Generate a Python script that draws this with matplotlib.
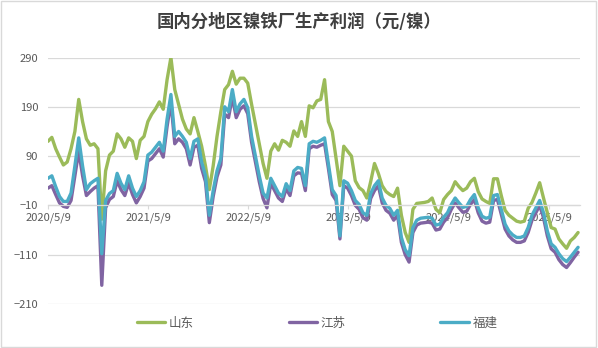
import matplotlib
matplotlib.use("Agg")
import matplotlib.pyplot as plt
import pandas as pd
from matplotlib.patches import Rectangle

plt.rcParams['font.family'] = ['Noto Sans CJK SC', 'DejaVu Sans']

# Fortnightly profit readings from 2020/5/9 (元/镍)
start_date = "2020-05-09"
shandong = [
    120, 128, 105, 88, 72, 78, 105, 140, 205, 160,
    125, 112, 115, 105, -38, 60, 92, 100, 135, 125,
    108, 127, 120, 85, 122, 130, 160, 175, 186, 200,
    185, 245, 290, 225, 195, 165, 145, 135, 168, 140,
    110, 70, 22, 70, 130, 180, 225, 235, 262, 236,
    248, 248, 238, 195, 155, 115, 75, 45, 100, 115,
    102, 122, 118, 110, 141, 130, 160, 130, 192, 188,
    202, 205, 245, 160, 140, 85, 30, 110, 100, 90,
    40, 26, 20, 5, 38, 75, 55, 30, 18, 12,
    8, 25, -30, -65, -85, -18, -6, -5, -4, -2,
    5, -18, -25, 2, 12, 20, 38, 28, 20, 25,
    38, 45, 18, 3, -2, -6, 44, 44, 10, -20,
    -30, -36, -42, -44, -42, -16, -4, 15, 36, 5,
    -25, -55, -58, -78, -88, -97, -82, -75, -65,
]
jiangsu = [
    25, 30, 12, -5, -12, -14, 0, 50, 100, 50,
    10, 18, 25, 30, -172, -15, 2, 8, 40, 22,
    10, 35, 12, -5, 8, 25, 80, 85, 95, 105,
    88, 150, 200, 115, 125, 118, 105, 72, 108, 112,
    65, 38, -45, 8, 48, 72, 175, 168, 210, 168,
    185, 192, 176, 118, 78, 38, 4, -15, 35, 20,
    5, -2, 24, 10, 50, 56, 55, 20, 105, 110,
    108, 112, 115, 65, 12, 0, -78, 30, 25, 10,
    -10, -18, -35, -40, 4, 20, 30, -5, -20, -26,
    -40, -30, -85, -110, -125, -65, -50, -46, -45, -44,
    -46, -60, -58, -44, -35, -18, -5, -15, -24, -22,
    -8, 2, -25, -42, -46, -44, 0, 2, -28, -58,
    -72, -80, -85, -85, -82, -65, -40, -25, -10, -35,
    -72, -98, -105, -120, -130, -136, -126, -115, -105,
]
fujian = [
    45, 50, 28, 8, -2, -2, 15, 70, 127, 70,
    22, 34, 40, 45, -108, 0, 14, 20, 55, 35,
    22, 50, 25, 8, 20, 38, 92, 98, 108, 118,
    100, 165, 215, 130, 140, 130, 118, 85, 120, 125,
    78, 50, -30, 20, 60, 85, 190, 180, 225, 180,
    196, 205, 188, 130, 90, 50, 15, 5, 45, 30,
    15, 8, 34, 20, 60, 67, 65, 30, 115, 120,
    118, 122, 127, 75, 22, 10, -72, 40, 35, 20,
    0, -8, -25, -30, 14, 30, 40, 5, -10, -16,
    -30, -20, -75, -100, -112, -55, -40, -36, -35, -34,
    -36, -50, -48, -34, -25, -8, 5, -5, -14, -12,
    2, 12, -15, -32, -36, -34, 10, 12, -18, -48,
    -62, -70, -75, -75, -72, -55, -30, -15, 0, -25,
    -62, -88, -95, -108, -118, -124, -115, -105, -95,
]
dates = pd.date_range(start_date, periods=len(shandong), freq="14D")

tick_dates = pd.to_datetime(["2020-05-09", "2021-05-09", "2022-05-09",
                             "2023-05-09", "2024-05-09", "2025-05-09"])
tick_labels = ["2020/5/9", "2021/5/9", "2022/5/9", "2023/5/9", "2024/5/9", "2025/5/9"]
y_ticks = [-210, -110, -10, 90, 190, 290]

series = [("山东", shandong, "#9BBB59"),
          ("江苏", jiangsu, "#8064A2"),
          ("福建", fujian, "#4BACC6")]

fig = plt.figure(figsize=(5.98, 3.48), dpi=100)
ax = fig.add_axes([48 / 598, 1 - 304 / 348, 532 / 598, 246.5 / 348])

handles = []
for name, values, color in series:
    line, = ax.plot(dates, values, color=color, lw=2.4, label=name,
                    solid_joinstyle="round", solid_capstyle="round")
    handles.append(line)

ax.set_ylim(-210, 290)
ax.set_yticks(y_ticks)
ax.set_xlim(pd.Timestamp("2020-05-09"), pd.Timestamp("2025-08-30"))
ax.set_xticks(tick_dates)
ax.set_xticklabels(tick_labels)

ax.yaxis.grid(True, color="#D9D9D9", lw=0.9)
ax.set_axisbelow(True)
for side in ["top", "right", "left"]:
    ax.spines[side].set_visible(False)
ax.spines["bottom"].set_position(("data", -10))
ax.spines["bottom"].set_color("#D9D9D9")
ax.spines["bottom"].set_linewidth(0.9)

ax.tick_params(axis="y", length=0, pad=7, labelsize=8, labelcolor="#595959")
ax.tick_params(axis="x", length=3, width=0.8, color="#D9D9D9", pad=2,
               labelsize=8, labelcolor="#595959")

fig.text(0.5, 1 - 21.5 / 348, "国内分地区镍铁厂生产利润（元/镍）", ha="center", va="center",
         fontsize=12.5, fontweight="bold", color="#404040")

leg = fig.legend(handles=handles, loc="center", bbox_to_anchor=(317 / 598, 1 - 323 / 348),
                 ncol=3, frameon=False, handlelength=2.3, handletextpad=0.25,
                 columnspacing=7.6, fontsize=9)
for t in leg.get_texts():
    t.set_color("#595959")

fig.add_artist(Rectangle((0.002, 0.003), 0.995, 0.994, transform=fig.transFigure,
                         fill=False, edgecolor="#D9D9D9", lw=1))

fig.savefig("out.png", dpi=100)
plt.close(fig)
